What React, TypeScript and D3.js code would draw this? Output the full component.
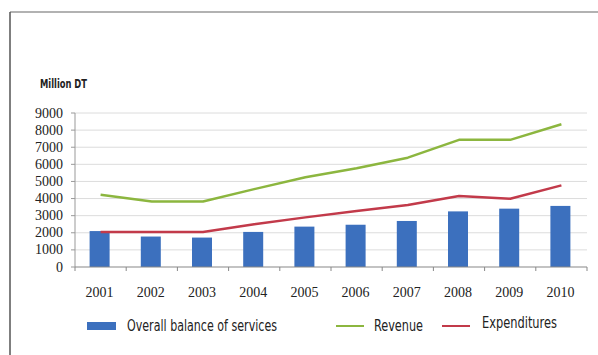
import React from "react";
import * as d3 from "d3";

const years = ["2001", "2002", "2003", "2004", "2005", "2006", "2007", "2008", "2009", "2010"];
const balance = [2100, 1780, 1720, 2050, 2360, 2470, 2690, 3250, 3410, 3570];
const revenue = [4220, 3830, 3830, 4550, 5250, 5770, 6390, 7430, 7430, 8340];
const expenditures = [2050, 2050, 2050, 2500, 2900, 3270, 3620, 4150, 3990, 4770];
const yTicks = [0, 1000, 2000, 3000, 4000, 5000, 6000, 7000, 8000, 9000];
const yUnit = "Million DT";
const legendLabels = ["Overall balance of services", "Revenue", "Expenditures"];

const W = 598;
const H = 355;
const left = 75;
const right = 587;
const top = 113;
const bottom = 267;

const BLUE = "#3c70be";
const GREEN = "#8cb63f";
const RED = "#c23a4a";

export default function App() {
  const xs = d3.scaleBand<string>().domain(years).range([left, right]);
  const y = d3.scaleLinear().domain([0, 9000]).range([bottom, top]);
  const cx = (d: string) => (xs(d) as number) + xs.bandwidth() / 2;
  const line = d3
    .line<number>()
    .x((_, i) => cx(years[i]))
    .y((v) => y(v));
  const bw = 20;
  const serif = "'Liberation Serif', 'DejaVu Serif', serif";
  const narrow = "'DejaVu Sans Condensed', 'Liberation Sans', sans-serif";

  return (
    <svg width={W} height={H} style={{ position: "absolute", left: 0, top: 0, background: "#fff" }}>
      {/* frame */}
      <line x1={10} x2={W} y1={12} y2={12} stroke="#999" strokeWidth={1.5} />
      <line x1={10} x2={10} y1={12} y2={H} stroke="#555" strokeWidth={1.5} />

      <text x={40} y={88} fontFamily={narrow} fontSize={13} fontWeight="bold" fill="#222" textLength={47} lengthAdjust="spacingAndGlyphs">
        {yUnit}
      </text>

      {/* grid */}
      {yTicks.slice(1).map((t) => (
        <line key={t} x1={left} x2={right} y1={y(t)} y2={y(t)} stroke="#dcdcdc" strokeWidth={1} />
      ))}

      {/* y axis */}
      <line x1={left} x2={left} y1={top} y2={bottom} stroke="#999" />
      {yTicks.map((t) => (
        <g key={t}>
          <line x1={left - 4} x2={left} y1={y(t)} y2={y(t)} stroke="#999" />
          <text x={63} y={y(t) + 4.5} textAnchor="end" fontFamily={serif} fontSize={14} fill="#222">
            {t}
          </text>
        </g>
      ))}

      {/* bars */}
      {years.map((yr, i) => (
        <rect key={yr} x={cx(yr) - bw / 2 - 1} y={y(balance[i])} width={bw} height={bottom - y(balance[i])} fill={BLUE} />
      ))}

      {/* x axis */}
      <line x1={left} x2={right} y1={bottom} y2={bottom} stroke="#888" strokeWidth={1.2} />
      {years.map((yr) => (
        <line key={yr} x1={xs(yr) as number} x2={xs(yr) as number} y1={bottom} y2={bottom + 4} stroke="#888" />
      ))}
      <line x1={right} x2={right} y1={bottom} y2={bottom + 4} stroke="#888" />
      {years.map((yr) => (
        <text key={yr} x={cx(yr) - 1} y={297} textAnchor="middle" fontFamily={serif} fontSize={14} fill="#222">
          {yr}
        </text>
      ))}

      {/* lines */}
      <path d={line(revenue) || ""} fill="none" stroke={GREEN} strokeWidth={2.5} strokeLinejoin="round" />
      <path d={line(expenditures) || ""} fill="none" stroke={RED} strokeWidth={2.5} strokeLinejoin="round" />

      {/* legend */}
      <rect x={87} y={322} width={29} height={8} fill={BLUE} />
      <text x={127} y={331} fontFamily={narrow} fontSize={15} fill="#222" textLength={150} lengthAdjust="spacingAndGlyphs">
        {legendLabels[0]}
      </text>
      <line x1={336} x2={364} y1={326} y2={326} stroke={GREEN} strokeWidth={2} />
      <text x={374} y={331} fontFamily={narrow} fontSize={15} fill="#222" textLength={49} lengthAdjust="spacingAndGlyphs">
        {legendLabels[1]}
      </text>
      <line x1={442} x2={470} y1={326} y2={326} stroke={RED} strokeWidth={2} />
      <text x={482} y={328} fontFamily={narrow} fontSize={15} fill="#222" textLength={75} lengthAdjust="spacingAndGlyphs">
        {legendLabels[2]}
      </text>
    </svg>
  );
}
